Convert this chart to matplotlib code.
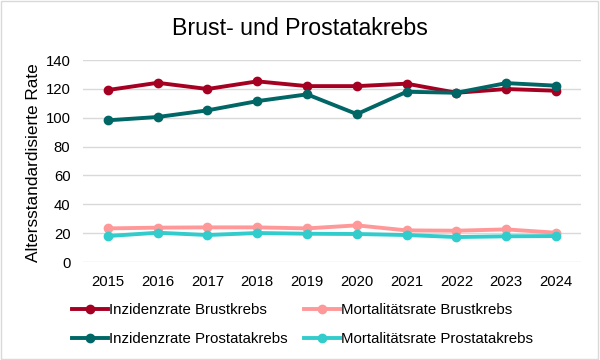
import matplotlib.pyplot as plt
from matplotlib.patches import Rectangle

plt.rcParams['font.family'] = ['Liberation Sans', 'DejaVu Sans']

years = [2015, 2016, 2017, 2018, 2019, 2020, 2021, 2022, 2023, 2024]
inz_brust = [119.2, 124.2, 119.9, 125.2, 121.9, 121.9, 123.6, 117.3, 119.9, 118.7]
inz_prostata = [98.2, 100.5, 105.1, 111.5, 116.2, 102.5, 118.0, 117.3, 124.0, 122.2]
mort_brust = [23.3, 23.8, 24.0, 24.0, 23.3, 25.4, 21.9, 21.7, 22.6, 20.3]
mort_prostata = [18.0, 20.3, 18.7, 20.1, 19.6, 19.4, 18.7, 17.3, 17.8, 18.0]

fig = plt.figure(figsize=(6, 3.6), dpi=100)
ax = fig.add_axes([0.1383, 0.2722, 0.83, 0.5611])
kw = dict(marker='o', lw=2.8, ms=6)
ax.plot(years, inz_brust, color='#A50021', label='Inzidenzrate Brustkrebs', **kw)
ax.plot(years, inz_prostata, color='#006666', label='Inzidenzrate Prostatakrebs', **kw)
ax.plot(years, mort_brust, color='#FF9999', label='Mortalitätsrate Brustkrebs', **kw)
ax.plot(years, mort_prostata, color='#33CCCC', label='Mortalitätsrate Prostatakrebs', **kw)
ax.set_xlim(2014.5, 2024.5); ax.set_ylim(0, 140)
ax.set_xticks(years); ax.set_yticks(range(0, 141, 20))
ax.tick_params(length=0, labelsize=10.7, colors='#000000')
ax.tick_params(axis='x', pad=9); ax.tick_params(axis='y', pad=9)
ax.grid(True, axis='y', color='#D9D9D9', lw=1); ax.set_axisbelow(True)
for s in ax.spines.values(): s.set_visible(False)
ax.set_ylabel('Altersstandardisierte Rate', fontsize=12.4)
ax.yaxis.set_label_coords(-0.084, 0.49)
fig.text(0.5, 0.92, 'Brust- und Prostatakrebs', ha='center', va='center', fontsize=16.7)
fig.legend(loc='upper left', bbox_to_anchor=(0.11, 0.175), ncol=2, frameon=False, fontsize=10.8,
           handlelength=2.4, handletextpad=0.08, columnspacing=1.05, labelspacing=1.0, borderaxespad=0)
fig.patches.append(Rectangle((0.002, 0.003), 0.995, 0.993, transform=fig.transFigure, fill=False, ec='#D9D9D9', lw=1))
fig.savefig('out.png', dpi=100)
